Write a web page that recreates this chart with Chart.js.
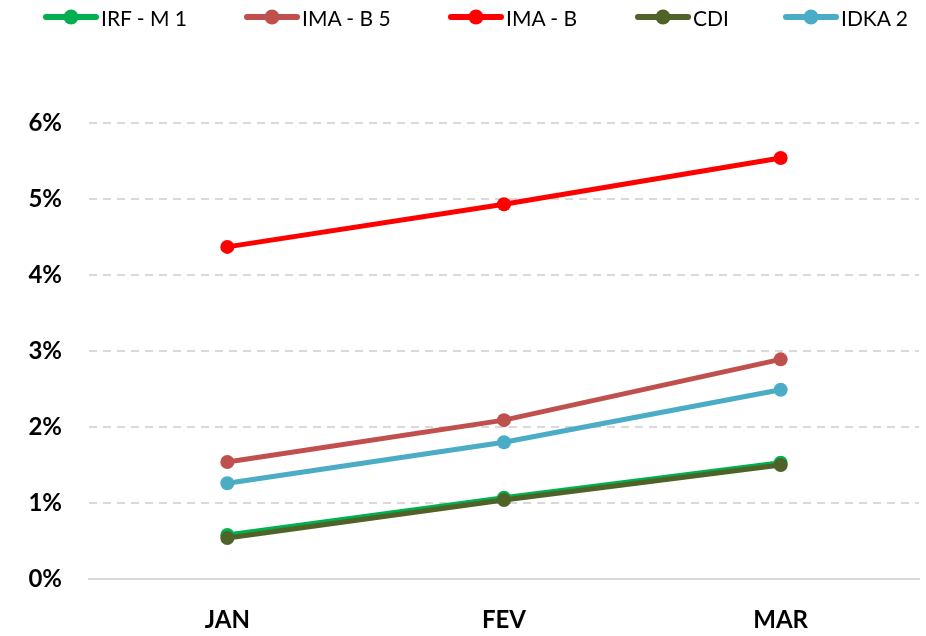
<!DOCTYPE html>
<html>
<head>
<meta charset="utf-8">
<script src="https://cdn.jsdelivr.net/npm/chart.js@4"></script>
<style>
  html, body { margin: 0; padding: 0; background: #fff; }
  #wrap { position: relative; width: 926px; height: 636px; }
  #legend { position: absolute; top: 5px; left: 0; height: 24px; width: 926px; font-family: Lato, sans-serif; font-size: 21px; color: #000; }
  #legend .item { position: absolute; top: 0; display: flex; align-items: center; height: 24px; white-space: nowrap; }
  #legend .txt { display: inline-block; margin-left: 2px; }
</style>
</head>
<body>
<div id="wrap">
  <canvas id="chart" width="926" height="636"></canvas>
  <div id="legend"></div>
</div>
<script>
const months = ['JAN', 'FEV', 'MAR'];
const yTicks = [0, 1, 2, 3, 4, 5, 6];

const irfM1 = [0.58, 1.07, 1.53];
const imaB5 = [1.54, 2.09, 2.89];
const imaB = [4.37, 4.93, 5.54];
const cdi = [0.54, 1.04, 1.50];
const idka2 = [1.26, 1.80, 2.49];

const series = [
  { label: 'IRF - M 1', data: irfM1, color: '#00B050', order: 2 },
  { label: 'IMA - B 5', data: imaB5, color: '#C0504D', order: 3 },
  { label: 'IMA - B', data: imaB, color: '#FF0000', order: 4 },
  { label: 'CDI', data: cdi, color: '#4F6228', order: 1 },
  { label: 'IDKA 2', data: idka2, color: '#4BACC6', order: 5 },
];

// legend item left edges
const legendLeft = [43, 244, 448, 635, 783];

// little line + dot image for legend items
function legendMarker (color) {
  const c = document.createElement('canvas');
  c.width = 56;
  c.height = 18;
  const ctx = c.getContext('2d');
  ctx.strokeStyle = color;
  ctx.lineWidth = 6;
  ctx.lineCap = 'round';
  ctx.beginPath();
  ctx.moveTo(3, 9);
  ctx.lineTo(53, 9);
  ctx.stroke();
  ctx.fillStyle = color;
  ctx.beginPath();
  ctx.arc(28, 9, 7.5, 0, Math.PI * 2);
  ctx.fill();
  return c;
}

const $legend = document.getElementById('legend');
series.forEach((s, i) => {
  const item = document.createElement('div');
  item.className = 'item';
  item.style.left = legendLeft[i] + 'px';
  item.appendChild(legendMarker(s.color));
  const txt = document.createElement('span');
  txt.className = 'txt';
  txt.textContent = s.label;
  item.appendChild(txt);
  $legend.appendChild(item);
});

new Chart(document.getElementById('chart'), {
  type: 'line',
  data: {
    labels: months,
    datasets: series.map((s) => ({
      label: s.label,
      data: s.data,
      borderColor: s.color,
      backgroundColor: s.color,
      borderWidth: 5,
      pointRadius: 7,
      pointBorderWidth: 0,
      pointBackgroundColor: s.color,
      tension: 0,
      order: s.order,
    })),
  },
  options: {
    responsive: false,
    animation: false,
    layout: { padding: { left: 0, right: 5, top: 123, bottom: 0 } },
    plugins: {
      tooltip: { enabled: false },
      legend: { display: false },
    },
    scales: {
      x: {
        offset: true,
        grid: { display: false, drawTicks: false },
        border: { display: true, color: '#D9D9D9', width: 2 },
        ticks: {
          color: '#000',
          padding: 27,
          font: { family: 'Lato', size: 24, weight: 'bold' },
        },
        afterFit (scale) { scale.height = 57; },
      },
      y: {
        min: 0,
        max: 6,
        afterBuildTicks (scale) { scale.ticks = yTicks.map((v) => ({ value: v })); },
        grid: { color: '#D9D9D9', lineWidth: 2, drawTicks: false },
        border: { display: false, dash: [8, 6] },
        ticks: {
          color: '#000',
          padding: 27,
          font: { family: 'Lato', size: 24, weight: 'bold' },
          callback: (v) => v + '%',
        },
        afterFit (scale) { scale.width = 89; },
      },
    },
  },
});
</script>
</body>
</html>
